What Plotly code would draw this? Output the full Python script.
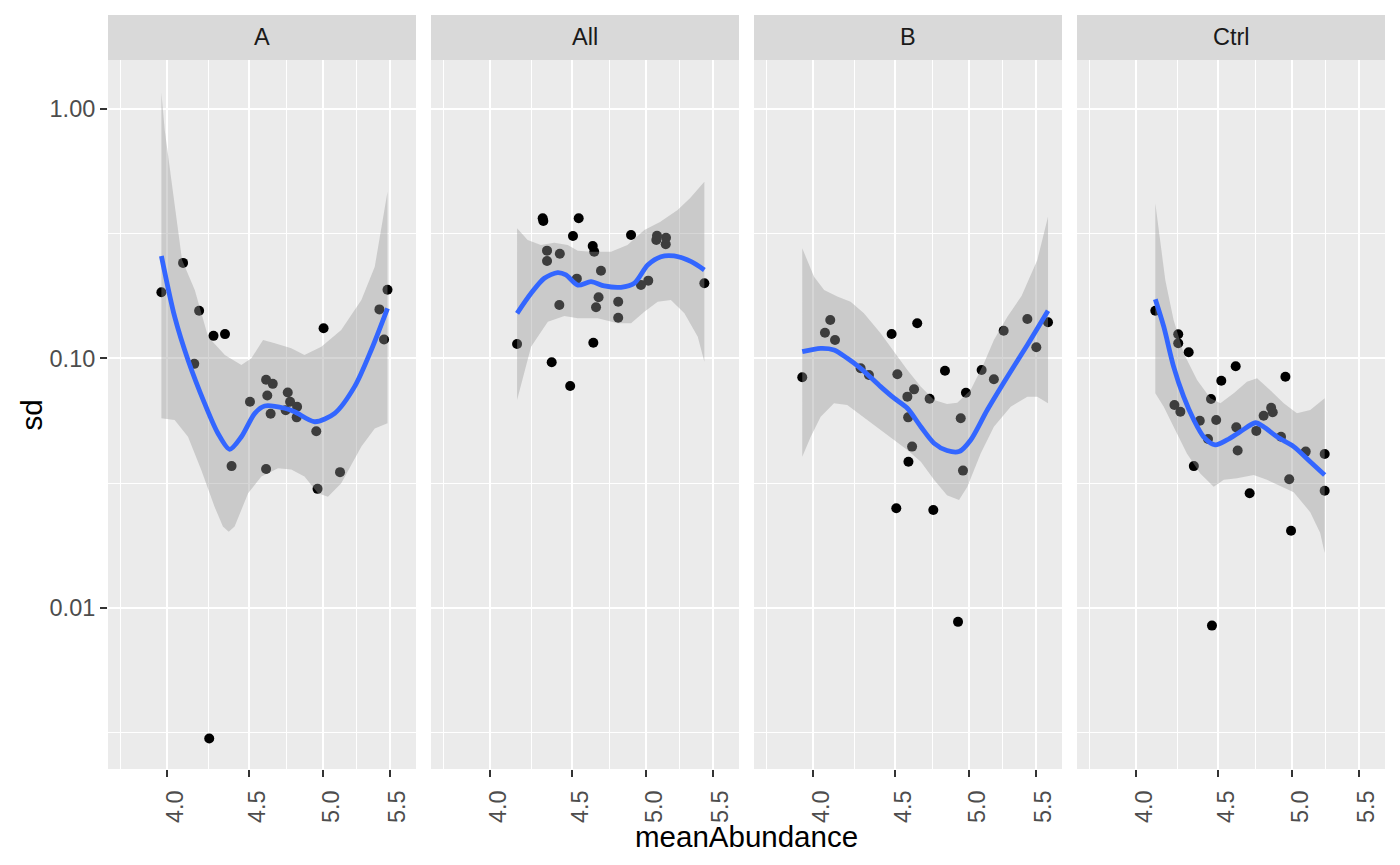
import plotly.graph_objects as go

# ---------------- data ----------------
panels = ["A", "All", "B", "Ctrl"]

A_x = [3.968, 4.093, 4.188, 4.275, 4.346, 4.159, 5.004, 5.483, 5.420, 5.456, 4.609, 4.653, 4.504,
       4.617, 4.754, 4.770, 4.818, 4.639, 4.740, 4.815, 4.952, 4.387, 4.609, 5.123, 4.961, 4.249]
A_sd = [0.184, 0.241, 0.155, 0.123, 0.125, 0.095, 0.132, 0.188, 0.157, 0.119, 0.082, 0.079, 0.067,
        0.071, 0.073, 0.067, 0.064, 0.060, 0.062, 0.058, 0.051, 0.037, 0.036, 0.035, 0.030, 0.0030]

All_x = [4.313, 4.317, 4.541, 4.504, 4.894, 4.633, 4.643, 4.340, 4.420, 4.340, 5.079, 5.145, 5.074, 5.143,
         4.688, 4.529, 4.964, 5.016, 5.435, 4.417, 4.672, 4.655, 4.805, 4.805, 4.158, 4.637, 4.369, 4.486]
All_sd = [0.3637, 0.3548, 0.3637, 0.3089, 0.3118, 0.2817, 0.2673, 0.2698, 0.2624, 0.2453, 0.3097, 0.3041,
          0.2977, 0.2861, 0.2243, 0.2084, 0.1965, 0.2046, 0.1998, 0.1635, 0.1755, 0.1600, 0.1685, 0.1454,
          0.1141, 0.1155, 0.0964, 0.0774]

B_x = [3.939, 4.100, 4.069, 4.128, 4.282, 4.333, 4.476, 4.643, 4.513, 4.622, 4.578, 4.726, 4.583, 4.609,
       4.585, 4.831, 4.978, 4.941, 4.957, 5.091, 5.181, 5.254, 5.435, 5.598, 5.505, 4.506, 4.751, 4.922]
B_sd = [0.0839, 0.1423, 0.1266, 0.1184, 0.0912, 0.0857, 0.1251, 0.1381, 0.0863, 0.0751, 0.0702, 0.0689,
        0.0580, 0.0443, 0.0385, 0.0892, 0.0728, 0.0575, 0.0355, 0.0898, 0.0824, 0.1290, 0.1437, 0.1394,
        0.1107, 0.0251, 0.0247, 0.0088]

Ctrl_x = [4.112, 4.249, 4.249, 4.313, 4.613, 4.519, 4.953, 4.453, 4.226, 4.262, 4.382, 4.486, 4.853, 4.864,
          4.801, 4.617, 4.751, 4.434, 4.922, 4.626, 5.099, 5.239, 4.345, 4.980, 5.239, 4.706, 4.993, 4.459]
Ctrl_sd = [0.1551, 0.1248, 0.1148, 0.1057, 0.0929, 0.0813, 0.0844, 0.0687, 0.0650, 0.0611, 0.0562, 0.0566,
           0.0634, 0.0608, 0.0589, 0.0529, 0.0512, 0.0475, 0.0485, 0.0427, 0.0423, 0.0414, 0.0370, 0.0328,
           0.0295, 0.0288, 0.0204, 0.0085]

# loess smooth (fit) and its confidence band
A_fit_x = [3.968, 4.044, 4.122, 4.221, 4.302, 4.375, 4.449, 4.535, 4.600, 4.733, 4.801, 4.941, 5.084, 5.231, 5.357, 5.483]
A_fit = [0.257, 0.1468, 0.0985, 0.0660, 0.0501, 0.0432, 0.0485, 0.0602, 0.0644, 0.0631, 0.0611, 0.0557, 0.0602, 0.0770, 0.1080, 0.1586]
A_hi_x = [3.968, 3.987, 4.025, 4.064, 4.087, 4.162, 4.242, 4.345, 4.449, 4.513, 4.589, 4.667, 4.778, 4.869, 4.988, 5.132, 5.282, 5.384, 5.483]
A_hi = [1.158, 0.821, 0.518, 0.3265, 0.2475, 0.1877, 0.1220, 0.1031, 0.0940, 0.100, 0.1184, 0.1148, 0.1096, 0.1031, 0.1113, 0.1298, 0.1712, 0.2326, 0.4648]
A_lo_x = [3.968, 4.044, 4.122, 4.201, 4.282, 4.333, 4.369, 4.406, 4.492, 4.578, 4.688, 4.778, 4.869, 4.964, 5.035, 5.132, 5.282, 5.384, 5.483]
A_lo = [0.0575, 0.0566, 0.0485, 0.0357, 0.0254, 0.0212, 0.0202, 0.0212, 0.0288, 0.0336, 0.0363, 0.0359, 0.0336, 0.0288, 0.0279, 0.0316, 0.0443, 0.0524, 0.0549]

All_fit_x = [4.158, 4.242, 4.323, 4.406, 4.459, 4.535, 4.622, 4.710, 4.824, 4.917, 5.012, 5.108, 5.205, 5.334, 5.435]
All_fit = [0.1514, 0.1821, 0.2092, 0.2203, 0.2157, 0.1965, 0.2026, 0.1948, 0.1925, 0.1998, 0.2364, 0.2552, 0.2569, 0.2437, 0.2258]
All_hi_x = [4.158, 4.221, 4.302, 4.385, 4.470, 4.535, 4.622, 4.756, 4.869, 4.988, 5.101, 5.231, 5.326, 5.435]
All_hi = [0.3317, 0.2977, 0.2843, 0.2904, 0.2843, 0.2698, 0.2673, 0.2673, 0.2843, 0.3265, 0.3515, 0.3925, 0.4384, 0.5097]
All_lo_x = [4.158, 4.242, 4.345, 4.449, 4.535, 4.667, 4.801, 4.894, 4.988, 5.084, 5.181, 5.282, 5.384, 5.435]
All_lo = [0.0681, 0.1113, 0.1401, 0.1477, 0.1446, 0.1446, 0.1381, 0.1381, 0.1537, 0.1685, 0.1712, 0.1514, 0.1220, 0.0969]

B_fit_x = [3.939, 4.044, 4.122, 4.201, 4.282, 4.406, 4.492, 4.578, 4.667, 4.756, 4.845, 4.929, 5.012, 5.132, 5.282, 5.435, 5.598]
B_fit = [0.1063, 0.1096, 0.1080, 0.1000, 0.0912, 0.0770, 0.0692, 0.0631, 0.0532, 0.0457, 0.0427, 0.0423, 0.0471, 0.0621, 0.0844, 0.1131, 0.1551]
B_hi_x = [3.939, 3.968, 4.006, 4.064, 4.141, 4.221, 4.302, 4.406, 4.492, 4.578, 4.667, 4.756, 4.845, 4.917, 5.012, 5.108, 5.181, 5.282, 5.390, 5.513, 5.598]
B_hi = [0.2757, 0.2475, 0.2122, 0.1877, 0.1768, 0.1685, 0.1514, 0.1259, 0.1063, 0.0898, 0.0770, 0.0681, 0.0656, 0.0664, 0.0746, 0.0955, 0.1184, 0.1468, 0.1776, 0.2475, 0.3692]
B_lo_x = [3.939, 3.987, 4.044, 4.122, 4.201, 4.302, 4.406, 4.492, 4.578, 4.667, 4.756, 4.845, 4.929, 4.988, 5.084, 5.181, 5.307, 5.435, 5.513, 5.598]
B_lo = [0.0403, 0.0485, 0.0583, 0.0660, 0.0650, 0.0583, 0.0516, 0.0471, 0.0429, 0.0385, 0.0326, 0.0283, 0.0271, 0.0306, 0.0416, 0.0532, 0.0640, 0.0702, 0.0702, 0.0660]

Ctrl_fit_x = [4.112, 4.162, 4.221, 4.282, 4.345, 4.406, 4.480, 4.556, 4.643, 4.745, 4.801, 4.894, 5.012, 5.132, 5.239]
Ctrl_fit = [0.1723, 0.1338, 0.0926, 0.0702, 0.0566, 0.0485, 0.0450, 0.0471, 0.0508, 0.0552, 0.0532, 0.0485, 0.0443, 0.0385, 0.0341]
Ctrl_hi_x = [4.112, 4.141, 4.171, 4.221, 4.282, 4.365, 4.449, 4.513, 4.600, 4.688, 4.756, 4.845, 4.941, 5.035, 5.132, 5.239]
Ctrl_hi = [0.4175, 0.2977, 0.2059, 0.1423, 0.1047, 0.0818, 0.0692, 0.0660, 0.0724, 0.0806, 0.0832, 0.0746, 0.0660, 0.0602, 0.0621, 0.0692]
Ctrl_lo_x = [4.112, 4.162, 4.221, 4.302, 4.385, 4.470, 4.535, 4.622, 4.733, 4.824, 4.917, 5.012, 5.132, 5.205, 5.239]
Ctrl_lo = [0.0724, 0.0640, 0.0532, 0.0416, 0.0346, 0.0306, 0.0326, 0.0331, 0.0341, 0.0326, 0.0308, 0.0291, 0.0242, 0.0200, 0.0166]

x_ticks = [4.0, 4.5, 5.0, 5.5]
x_ticktext = ["4.0", "4.5", "5.0", "5.5"]
y_ticks = [0.01, 0.1, 1.0]
y_ticktext = ["0.01", "0.10", "1.00"]

points = {"A": (A_x, A_sd), "All": (All_x, All_sd), "B": (B_x, B_sd), "Ctrl": (Ctrl_x, Ctrl_sd)}
fits = {"A": (A_fit_x, A_fit), "All": (All_fit_x, All_fit), "B": (B_fit_x, B_fit), "Ctrl": (Ctrl_fit_x, Ctrl_fit)}
bands = {"A": (A_hi_x, A_hi, A_lo_x, A_lo), "All": (All_hi_x, All_hi, All_lo_x, All_lo),
         "B": (B_hi_x, B_hi, B_lo_x, B_lo), "Ctrl": (Ctrl_hi_x, Ctrl_hi, Ctrl_lo_x, Ctrl_lo)}

# ---------------- layout constants ----------------
W, H = 1400, 865
x_px = [(108, 416), (431, 739), (754, 1062), (1077, 1385)]
panel_top, panel_bot, strip_top = 60, 769, 15
FONT = "Liberation Sans, Arial, sans-serif"
TICK_SIZE = 23.5
TITLE_SIZE = 29.5

fig = go.Figure()
layout = {}
shapes = []
annotations = []

for i, p in enumerate(panels):
    xa = "x" if i == 0 else f"x{i+1}"
    ya = "y" if i == 0 else f"y{i+1}"
    px_, py_ = points[p]
    fig.add_trace(go.Scatter(x=px_, y=py_, mode="markers", xaxis=xa, yaxis=ya,
                             marker=dict(color="black", size=10, line=dict(width=0)),
                             showlegend=False, hoverinfo="skip"))
    hx, hy, lx, ly = bands[p]
    fig.add_trace(go.Scatter(x=hx + lx[::-1], y=hy + ly[::-1], mode="lines", fill="toself",
                             fillcolor="rgba(153,153,153,0.4)", line=dict(width=0, color="rgba(0,0,0,0)"),
                             xaxis=xa, yaxis=ya, showlegend=False, hoverinfo="skip"))
    fx, fy = fits[p]
    fig.add_trace(go.Scatter(x=fx, y=fy, mode="lines", xaxis=xa, yaxis=ya,
                             line=dict(color="#3366FF", width=4.8, shape="spline", smoothing=0.8),
                             showlegend=False, hoverinfo="skip"))

    x0, x1 = x_px[i]
    dom = [x0 / W, x1 / W]
    layout["xaxis" if i == 0 else f"xaxis{i+1}"] = dict(
        type="log", range=[0.56541, 0.75672], domain=dom, anchor=ya,
        tickmode="array", tickvals=x_ticks, ticktext=x_ticktext, tickangle=-90,
        ticks="outside", ticklen=7, tickwidth=2, tickcolor="#333333",
        ticklabelshift=8, ticklabelstandoff=4,
        tickfont=dict(family=FONT, size=TICK_SIZE, color="#4D4D4D"),
        showgrid=True, gridcolor="white", gridwidth=2.2,
        minor=dict(tickmode="array", tickvals=[3.742, 4.243, 4.743, 5.244], showgrid=True,
                   gridcolor="white", gridwidth=1.1, ticks=""),
        zeroline=False, showline=False, fixedrange=True)
    layout["yaxis" if i == 0 else f"yaxis{i+1}"] = dict(
        type="log", range=[-2.6448, 0.1946], domain=[1 - panel_bot / H, 1 - panel_top / H], anchor=xa,
        tickmode="array", tickvals=y_ticks, ticktext=y_ticktext,
        showticklabels=(i == 0), ticks="outside" if i == 0 else "",
        ticklen=7, tickwidth=2, tickcolor="#333333",
        tickfont=dict(family=FONT, size=TICK_SIZE, color="#4D4D4D"),
        showgrid=True, gridcolor="white", gridwidth=2.2,
        minor=dict(tickmode="array", tickvals=[0.003162, 0.03162, 0.3162], showgrid=True,
                   gridcolor="white", gridwidth=1.1, ticks=""),
        zeroline=False, showline=False, fixedrange=True)

    shapes.append(dict(type="rect", xref="paper", yref="paper", x0=dom[0], x1=dom[1],
                       y0=1 - panel_top / H, y1=1 - strip_top / H,
                       fillcolor="#D9D9D9", line=dict(width=0), layer="below"))
    annotations.append(dict(text=p, xref="paper", yref="paper", x=(dom[0] + dom[1]) / 2,
                            y=1 - (panel_top + strip_top) / 2 / H, showarrow=False,
                            xanchor="center", yanchor="middle",
                            font=dict(family=FONT, size=TICK_SIZE, color="#1A1A1A")))

annotations.append(dict(text="meanAbundance", xref="paper", yref="paper", x=(108 + 1385) / 2 / W,
                        y=1 - 836 / H, showarrow=False, xanchor="center", yanchor="middle",
                        font=dict(family=FONT, size=TITLE_SIZE, color="black")))
annotations.append(dict(text="sd", xref="paper", yref="paper", x=31 / W,
                        y=1 - (panel_top + panel_bot) / 2 / H, showarrow=False, textangle=-90,
                        xanchor="center", yanchor="middle",
                        font=dict(family=FONT, size=TITLE_SIZE, color="black")))

fig.update_layout(**layout)
fig.update_layout(width=W, height=H, autosize=False, margin=dict(l=0, r=0, t=0, b=0),
                  plot_bgcolor="#EBEBEB", paper_bgcolor="white",
                  shapes=shapes, annotations=annotations, showlegend=False)

fig.write_html("out.html", config={"displayModeBar": False},
               post_script="document.body.style.margin='0';document.body.style.overflow='hidden';")
